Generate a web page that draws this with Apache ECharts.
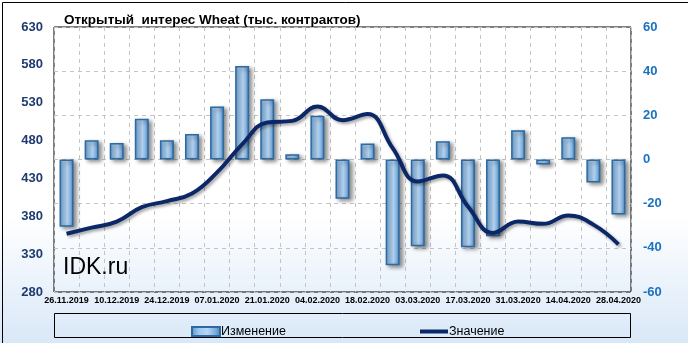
<!DOCTYPE html>
<html>
<head>
<meta charset="utf-8">
<script src="https://cdn.jsdelivr.net/npm/echarts@6/dist/echarts.min.js"></script>
<style>
html,body{margin:0;padding:0;}
#c{width:688px;height:343px;background:linear-gradient(to bottom,#ffffff 0%,#ffffff 63%,#d9e8f8 100%);}
</style>
</head>
<body>
<div id="c"></div>
<script>
const categories = ['26.11.2019','03.12.2019','10.12.2019','17.12.2019','24.12.2019','31.12.2019','07.01.2020','14.01.2020','21.01.2020','28.01.2020','04.02.2020','11.02.2020','18.02.2020','25.02.2020','03.03.2020','10.03.2020','17.03.2020','24.03.2020','31.03.2020','07.04.2020','14.04.2020','21.04.2020','28.04.2020'];
const changeValues = [-30.5, 8.7, 7.5, 18.4, 8.7, 11.6, 24.0, 42.3, 27.3, 2.4, 19.8, -17.8, 7.2, -47.9, -39.3, 8.3, -39.7, -34.7, 13.3, -2.3, 10.1, -10.4, -24.9];
const levelValues = [357, 365, 373, 392, 400, 410, 438, 475, 504, 506, 525, 507, 515, 470, 426, 434, 393, 358, 373, 370, 381, 369, 343];
const leftTicks = [280, 330, 380, 430, 480, 530, 580, 630];
const rightTicks = [-60, -40, -20, 0, 20, 40, 60];
const titleText = 'Открытый  интерес Wheat (тыс. контрактов)';
const seriesNames = ['Изменение', 'Значение'];
const watermark = 'IDK.ru';

const FONT = '"Liberation Sans", Arial, sans-serif';
const barFill = new echarts.graphic.LinearGradient(0, 0, 1, 0, [
  {offset: 0, color: '#5a8fc3'},
  {offset: 0.25, color: '#9ec6ec'},
  {offset: 0.55, color: '#b6d5f3'},
  {offset: 0.8, color: '#7fadda'},
  {offset: 1, color: '#497fb4'}
]);

const chart = echarts.init(document.getElementById('c'), null, {renderer: 'canvas'});
chart.setOption({
  animation: false,
  backgroundColor: 'transparent',
  title: {
    text: titleText, left: 59, top: 8,
    textStyle: {fontFamily: FONT, fontSize: 13.5, fontWeight: 'bold', color: '#000'}
  },
  grid: {left: 54, right: 57, top: 27, bottom: 51, show: true, borderColor: '#000', borderWidth: 1, backgroundColor: 'transparent'},
  legend: [
    {data: [{name: seriesNames[0], icon: 'rect'}], left: 186, top: 320, itemWidth: 28, itemHeight: 9, itemGap: 2,
     textStyle: {fontFamily: FONT, fontSize: 12.5, color: '#000', padding: [0, 0, 0, -4]}},
    {data: [{name: seriesNames[1], icon: 'rect'}], left: 415, top: 320, itemWidth: 28, itemHeight: 4, itemGap: 2,
     textStyle: {fontFamily: FONT, fontSize: 12.5, color: '#000', padding: [0, 0, 0, -4]}}
  ],
  xAxis: {
    type: 'category', data: categories, boundaryGap: true,
    axisLine: {show: false}, axisTick: {show: false},
    axisLabel: {interval: 1, margin: 4, fontFamily: FONT, fontSize: 9, fontWeight: 'bold', color: '#000'},
    splitLine: {show: true, interval: 0, lineStyle: {color: '#c4c4c4', type: [4, 4], width: 1}}
  },
  yAxis: [
    {type: 'value', position: 'left', min: leftTicks[0], max: leftTicks[leftTicks.length - 1], interval: 10,
     axisLine: {show: false}, axisTick: {show: false}, splitLine: {show: false},
     axisLabel: {margin: 11, fontFamily: FONT, fontSize: 13, fontWeight: 'bold', color: '#1f3a6e',
       formatter: v => leftTicks.indexOf(Math.round(v)) >= 0 ? String(Math.round(v)) : ''}},
    {type: 'value', position: 'right', min: rightTicks[0], max: rightTicks[rightTicks.length - 1], interval: 20,
     axisLine: {show: false}, axisTick: {show: false},
     splitLine: {show: true, lineStyle: {color: '#c4c4c4', type: [4, 4], width: 1}},
     axisLabel: {margin: 12, fontFamily: FONT, fontSize: 13, fontWeight: 'bold', color: '#1a72c2'}}
  ],
  series: [
    {name: seriesNames[0], type: 'bar', yAxisIndex: 1, data: changeValues, barWidth: 14,
     itemStyle: {color: barFill, borderColor: '#2b6aa3', borderWidth: 1.5,
       shadowColor: 'rgba(0,0,0,0.45)', shadowBlur: 4, shadowOffsetX: 3, shadowOffsetY: 2}},
    {name: seriesNames[1], type: 'line', yAxisIndex: 0, data: levelValues, smooth: 0.45, symbol: 'none',
     itemStyle: {color: '#0b2767'},
     lineStyle: {color: '#0b2767', width: 4, shadowColor: 'rgba(0,0,0,0.35)', shadowBlur: 3, shadowOffsetX: 2, shadowOffsetY: 2}}
  ],
  graphic: [
    {type: 'rect', left: 0, top: 0, shape: {x: 0.5, y: 0.5, width: 687, height: 342}, style: {fill: 'none', stroke: '#000', lineWidth: 1}, z: 100},
    {type: 'rect', shape: {x: 54.5, y: 313.5, width: 576, height: 24}, style: {fill: 'none', stroke: '#000', lineWidth: 1}, z: 100},
    {type: 'text', left: 63, top: 256, style: {text: watermark, fontFamily: FONT, fontSize: 23, fill: '#000'}, z: 100}
  ]
});
</script>
</body>
</html>
